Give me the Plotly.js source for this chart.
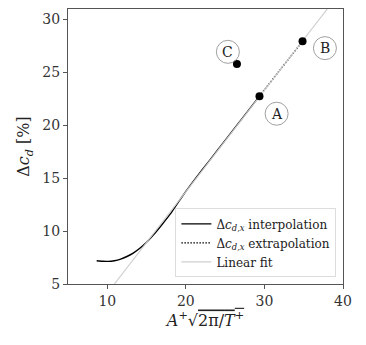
<!DOCTYPE html>
<html>
<head>
<meta charset="utf-8">
<script src="https://cdn.plot.ly/plotly-3.0.1.min.js"></script>
<style>
  html, body { margin: 0; padding: 0; background: #fff; }
  #chart { width: 366px; height: 345px; }
</style>
</head>
<body>
<div id="chart"></div>
<script>
// interpolated drag change curve
var interpX = [8.65, 9.4, 10.1, 10.9, 11.7, 12.5, 13.3, 14.1, 15.0, 16.0, 17.0, 18.0, 19.0, 20.0, 21.14, 23.0, 25.0, 27.0, 29.37];
var interpY = [7.20, 7.15, 7.14, 7.20, 7.35, 7.60, 7.92, 8.35, 8.95, 9.75, 10.65, 11.60, 12.70, 13.75, 14.89, 16.67, 18.58, 20.49, 22.76];

// extrapolation from A to B
var extrapX = [29.37, 34.85];
var extrapY = [22.76, 27.95];

// linear fit end points
var fitX = [10.9, 38.0];
var fitY = [5.0, 31.0];

// marked cases
var caseNames = ['A', 'B', 'C'];
var caseX = [29.37, 34.85, 26.5];
var caseY = [22.76, 27.95, 25.81];

var font = 'DejaVu Serif';
var dx = 'Δ<i>c</i><sub><i>d,x</i></sub>';

var traces = [
  {
    x: interpX, y: interpY, mode: 'lines', name: dx + ' interpolation',
    line: { color: '#000', width: 1.4, shape: 'spline', smoothing: 0.6 }
  },
  {
    x: extrapX, y: extrapY, mode: 'lines', name: dx + ' extrapolation',
    line: { color: '#000', width: 1.4, dash: '1.5px,1.5px' }
  },
  {
    x: fitX, y: fitY, mode: 'lines', name: 'Linear fit',
    line: { color: '#cfcfcf', width: 1.2 }
  },
  {
    x: caseX, y: caseY, mode: 'markers', showlegend: false,
    marker: { color: '#000', size: 8 }
  }
];

// circled labels next to each case
var labelPos = { A: [31.55, 21.1], B: [37.7, 27.3], C: [25.35, 26.95] };
var shapes = [];
var annotations = [];
caseNames.forEach(function (n) {
  var p = labelPos[n];
  shapes.push({
    type: 'circle', xref: 'x', yref: 'y',
    xsizemode: 'pixel', ysizemode: 'pixel',
    xanchor: p[0], yanchor: p[1],
    x0: -11.5, x1: 11.5, y0: -11.5, y1: 11.5,
    line: { color: '#888', width: 0.8 }, fillcolor: 'rgba(255,255,255,0)'
  });
  annotations.push({
    x: p[0], y: p[1], text: n, showarrow: false,
    font: { family: font, size: 14, color: '#222' }
  });
});

var axisStyle = {
  showgrid: false, zeroline: false,
  showline: true, linecolor: '#555', linewidth: 1, mirror: true,
  ticks: 'outside', ticklen: 4, tickcolor: '#555', tickwidth: 1,
  tickfont: { family: font, size: 14, color: '#333' }
};

var layout = {
  width: 366, height: 345,
  margin: { l: 68, r: 23, t: 9, b: 61 },
  paper_bgcolor: '#fff', plot_bgcolor: '#fff',
  showlegend: true,
  xaxis: Object.assign({}, axisStyle, {
    range: [5, 40], tickvals: [10, 20, 30, 40],
    title: {
      text: '<i>A</i><sup>+</sup>√<span style="text-decoration:overline">2π/<i>T</i><sup>+</sup></span>',
      font: { family: font, size: 16, color: '#222' }, standoff: 0
    }
  }),
  yaxis: Object.assign({}, axisStyle, {
    range: [5, 31], tickvals: [5, 10, 15, 20, 25, 30],
    title: {
      text: 'Δ<i>c</i><sub><i>d</i></sub> [%]',
      font: { family: font, size: 16, color: '#222' }, standoff: 8
    }
  }),
  legend: {
    x: 0.976, xanchor: 'right', y: 0.024, yanchor: 'bottom',
    bgcolor: 'rgba(255,255,255,0.9)', bordercolor: '#ddd', borderwidth: 1,
    font: { family: font, size: 12, color: '#222' },
    tracegroupgap: 0, itemwidth: 30
  },
  shapes: shapes,
  annotations: annotations
};

Plotly.newPlot('chart', traces, layout, { displayModeBar: false, staticPlot: true });
</script>
</body>
</html>
